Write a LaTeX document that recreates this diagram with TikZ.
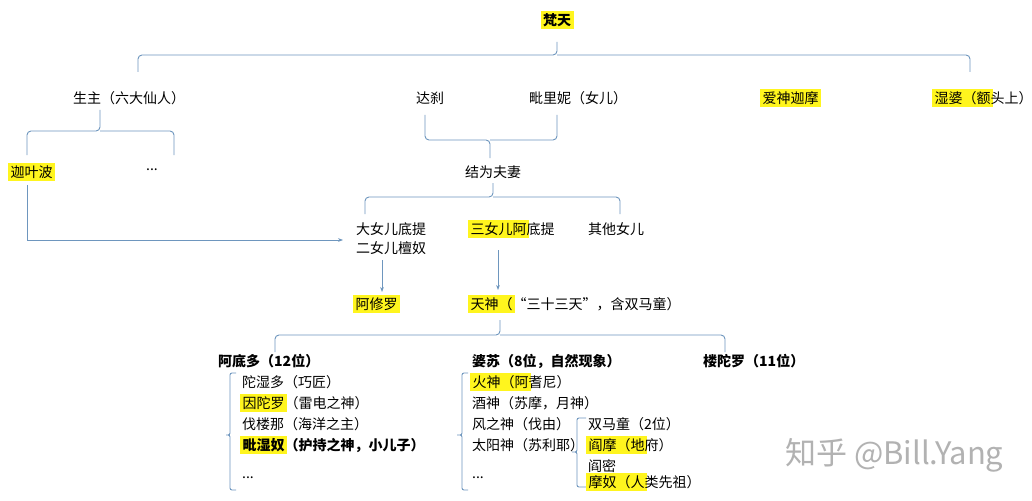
\documentclass[tikz,border=0pt]{standalone}
\usetikzlibrary{arrows.meta}
\usepackage{fontspec}
\setmainfont{Noto Sans CJK SC}
\definecolor{brc}{RGB}{110,150,190}
\definecolor{hly}{RGB}{255,245,30}
\newcommand{\hl}[1]{{\setlength\fboxsep{2.5pt}\colorbox{hly}{#1}}}
\begin{document}
\begin{tikzpicture}[x=1pt,y=-1pt,
  t/.style={inner sep=0pt,anchor=west,font=\fontsize{14}{16}\selectfont},
  tb/.style={t,font=\fontsize{14}{16}\selectfont\bfseries},
  br/.style={draw=brc,line width=0.9pt,rounded corners=4pt},
  ar/.style={draw=brc,line width=0.9pt,-{Stealth[length=5pt]}}]
\useasboundingbox[fill=white] (0,0) rectangle (1032,500);
\node[tb,anchor=center] (ft) at (557,20) {\hl{梵天}};
% top brace
\draw[br] (138,72) |- (557,55) -- (557,42);
\draw[br] (557,55) -| (970,72);
\node[t,anchor=center] (sz) at (129,98) {生主（六大仙人）};
\node[t,anchor=center] (dc) at (430,98) {达刹};
\node[t,anchor=center] (plm) at (578,98) {毗里妮（女儿）};
\node[t] (am) at (760,98) {\hl{爱神迦摩}};
\node[t] (sp) at (932,98) {\hl{湿婆（额}\kern-2.5pt{头上）}};
% brace under shengzhu
\draw[br] (27,155) |- (100,131) -- (100,110);
\draw[br] (100,131) -| (174,155);
\node[t] (jyb) at (8,172) {\hl{迦叶波}};
\node[t,anchor=center] (dd) at (152,170) {...};
% brace daci/pilini (open up)
\draw[br] (425,115) |- (490,140) -- (490,158);
\draw[br] (490,140) -| (557,115);
\node[t,anchor=center] (jw) at (493,172) {结为夫妻};
\draw[br] (365,214) |- (493,197) -- (493,183);
\draw[br] (493,197) -| (620,214);
\node[t] (d1) at (356,229) {大女儿底提};
\node[t] (d2) at (356,248) {二女儿檀奴};
\node[t] (d3) at (468,229) {\hl{三女儿阿}\kern-2.5pt 底提};
\node[t] (d4) at (588,229) {其他女儿};
\coordinate (c1) at (27,240);
\coordinate (c2) at (343,240);
\draw[ar] (27,185) -- (c1) -- (c2);
\node[t] (axl) at (353,304) {\hl{阿修罗}};
\node[t] (ts) at (468,304) {\hl{天神（}\kern-2.5pt“三十三天”，含双马童）};
\coordinate (c3) at (382,260);
\coordinate (c4) at (382,292);
\draw[ar] (c3) -- (c4);
\coordinate (c5) at (498,250);
\coordinate (c6) at (498,290);
\draw[ar] (c5) -- (c6);
\draw[br] (275,352) |- (500,335) -- (500,320);
\draw[br] (500,335) -| (725,352);
\node[tb] (adt) at (218,361) {阿底多（12位）};
\node[tb] (ps) at (472,361) {婆苏（8位，自然现象）};
\node[tb] (ltl) at (703,361) {楼陀罗（11位）};
% left list
\draw[br,rounded corners=2pt] (236,373) -| (230,435) -- (225,435) -- (230,435) |- (236,490);
\node[t] (a1) at (242,382) {陀湿多（巧匠）};
\node[t] (a2) at (240,403) {\hl{因陀罗}\kern-2.5pt（雷电之神）};
\node[t] (a3) at (242,424) {伐楼那（海洋之主）};
\node[tb] (a4) at (240,445) {\hl{毗湿奴}\kern-2.5pt（护持之神，小儿子）};
\node[t] (a5) at (242,478) {...};
% middle list
\draw[br,rounded corners=2pt] (468,373) -| (462,435) -- (456,435) -- (462,435) |- (468,490);
\node[t] (p1) at (470,382) {\hl{火神（阿}\kern-2.5pt 耆尼）};
\node[t] (p2) at (472,403) {酒神（苏摩，月神）};
\node[t] (p3) at (472,424) {风之神（伐由）};
\node[t] (p4) at (472,445) {太阳神（苏利耶）};
\node[t] (p5) at (472,478) {...};
\draw[br,rounded corners=2pt] (586,418) -| (577,452) -- (571,452) -- (577,452) |- (586,487);
\node[t] (s1) at (588,424) {双马童（2位）};
\node[t] (s2) at (586,445) {\hl{阎摩（地}\kern-2.5pt 府）};
\node[t] (s3) at (588,466) {阎密};
\node[t] (s4) at (586,482) {\hl{摩奴（人}\kern-2.5pt 类先祖）};
\node[t,text=black!30,font=\fontsize{31}{34}\selectfont] (wm) at (785,455) {知乎 @Bill.Yang};
\end{tikzpicture}
\end{document}
